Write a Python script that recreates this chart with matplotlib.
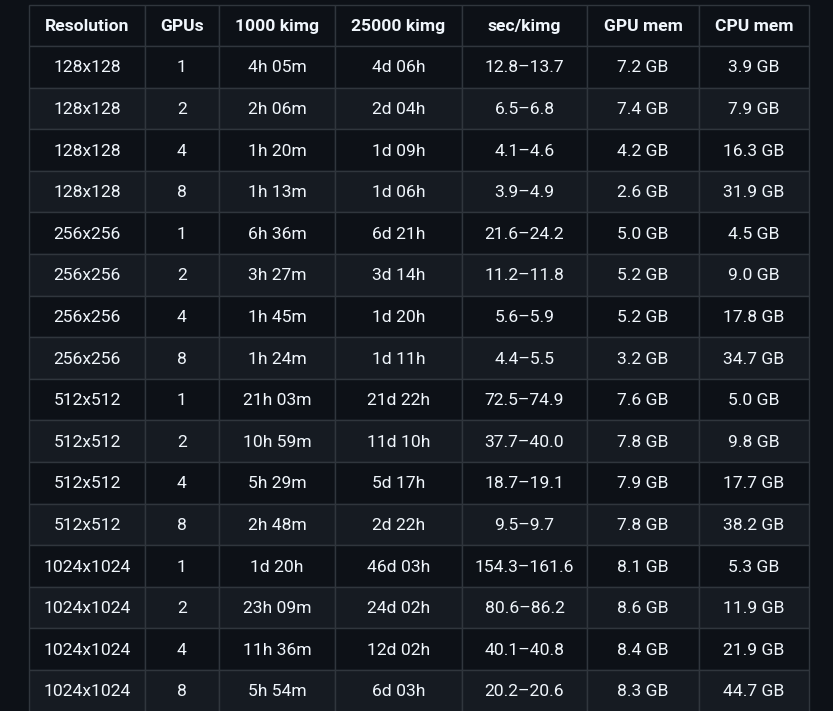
import matplotlib.pyplot as plt
from matplotlib.patches import Rectangle

# ---------------------------------------------------------------------------
# Table data
# ---------------------------------------------------------------------------
headers = ["Resolution", "GPUs", "1000 kimg", "25000 kimg", "sec/kimg", "GPU mem", "CPU mem"]

resolution = ["128x128"] * 4 + ["256x256"] * 4 + ["512x512"] * 4 + ["1024x1024"] * 4
gpus = ["1", "2", "4", "8"] * 4
time_1000 = ["4h 05m", "2h 06m", "1h 20m", "1h 13m",
             "6h 36m", "3h 27m", "1h 45m", "1h 24m",
             "21h 03m", "10h 59m", "5h 29m", "2h 48m",
             "1d 20h", "23h 09m", "11h 36m", "5h 54m"]
time_25000 = ["4d 06h", "2d 04h", "1d 09h", "1d 06h",
              "6d 21h", "3d 14h", "1d 20h", "1d 11h",
              "21d 22h", "11d 10h", "5d 17h", "2d 22h",
              "46d 03h", "24d 02h", "12d 02h", "6d 03h"]
sec_per_kimg = ["12.8\u201313.7", "6.5\u20136.8", "4.1\u20134.6", "3.9\u20134.9",
                "21.6\u201324.2", "11.2\u201311.8", "5.6\u20135.9", "4.4\u20135.5",
                "72.5\u201374.9", "37.7\u201340.0", "18.7\u201319.1", "9.5\u20139.7",
                "154.3\u2013161.6", "80.6\u201386.2", "40.1\u201340.8", "20.2\u201320.6"]
gpu_mem = ["7.2 GB", "7.4 GB", "4.2 GB", "2.6 GB",
           "5.0 GB", "5.2 GB", "5.2 GB", "3.2 GB",
           "7.6 GB", "7.8 GB", "7.9 GB", "7.8 GB",
           "8.1 GB", "8.6 GB", "8.4 GB", "8.3 GB"]
cpu_mem = ["3.9 GB", "7.9 GB", "16.3 GB", "31.9 GB",
           "4.5 GB", "9.0 GB", "17.8 GB", "34.7 GB",
           "5.0 GB", "9.8 GB", "17.7 GB", "38.2 GB",
           "5.3 GB", "11.9 GB", "21.9 GB", "44.7 GB"]

columns = [resolution, gpus, time_1000, time_25000, sec_per_kimg, gpu_mem, cpu_mem]

# ---------------------------------------------------------------------------
# Layout (pixel coordinates) and GitHub dark colours
# ---------------------------------------------------------------------------
col_edges = [29, 145, 219, 335, 462, 587, 699, 809]
table_top = 4.5
header_h = 41.5
row_h = 41.6
text_dy = 1.0  # nudge text down to sit like the browser render

BG = "#0d1117"
STRIPE = "#161b22"
BORDER = "#30363d"
TEXT = "#f0f6fc"

fig = plt.figure(figsize=(8.33, 7.11), dpi=100)
fig.patch.set_facecolor(BG)
ax = fig.add_axes([0, 0, 1, 1])
ax.set_facecolor(BG)
ax.set_xlim(0, 833)
ax.set_ylim(711, 0)
ax.axis("off")

font = "Roboto"
size = 12.6
n_rows = len(resolution)

# -- Header --------------------------------------------------------------------
for c, name in enumerate(headers):
    x0, x1 = col_edges[c], col_edges[c + 1]
    ax.add_patch(Rectangle((x0, table_top), x1 - x0, header_h,
                           facecolor=BG, edgecolor=BORDER, linewidth=1.0))
    ax.text((x0 + x1) / 2, table_top + header_h / 2 + text_dy, name,
            ha="center", va="center", fontsize=size, fontweight="bold",
            color=TEXT, family=font)

# -- Body ----------------------------------------------------------------------
for r in range(n_rows):
    y0 = table_top + header_h + r * row_h
    fill = STRIPE if r % 2 == 1 else BG
    for c, col in enumerate(columns):
        x0, x1 = col_edges[c], col_edges[c + 1]
        ax.add_patch(Rectangle((x0, y0), x1 - x0, row_h,
                               facecolor=fill, edgecolor=BORDER, linewidth=1.0))
        ax.text((x0 + x1) / 2, y0 + row_h / 2 + text_dy, col[r],
                ha="center", va="center", fontsize=size,
                color=TEXT, family=font)

fig.savefig("out.png", dpi=100, facecolor=BG)
